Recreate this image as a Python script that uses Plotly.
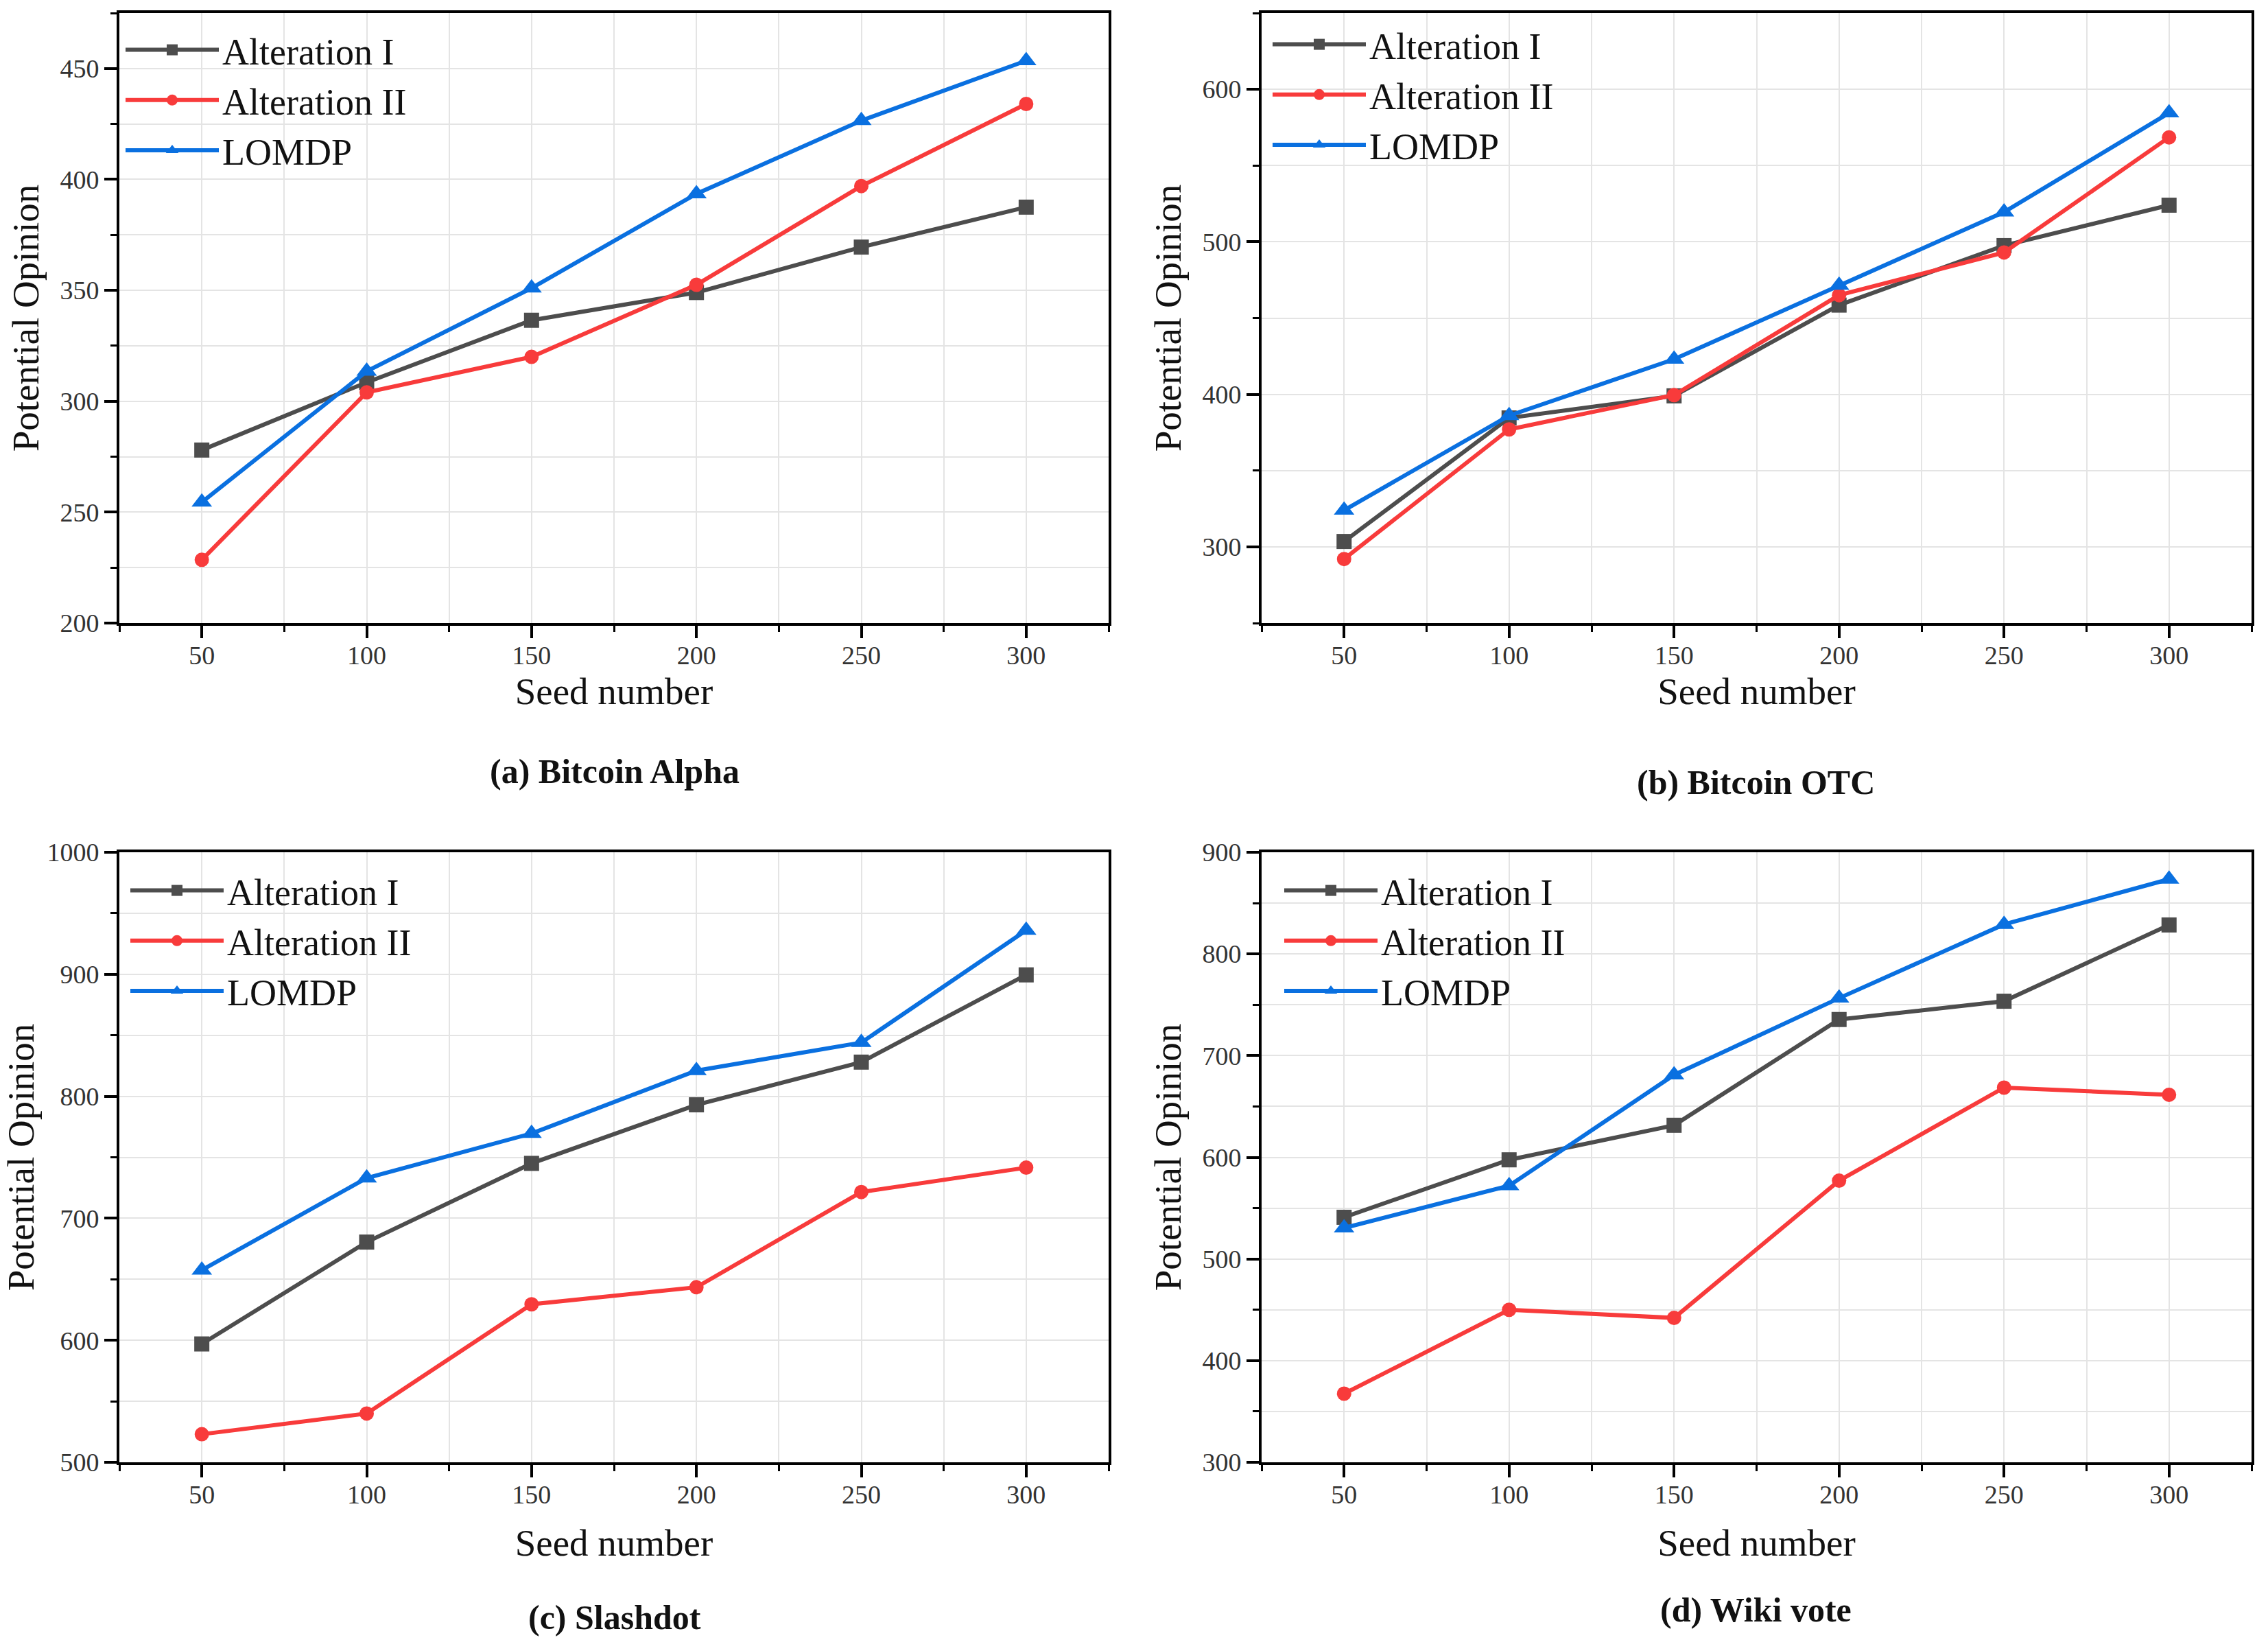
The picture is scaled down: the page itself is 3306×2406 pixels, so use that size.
import plotly.graph_objects as go
from plotly.subplots import make_subplots

# ---------------- data ----------------
seeds = [50, 100, 150, 200, 250, 300]
series_names = ["Alteration I", "Alteration II", "LOMDP"]
panel_titles = ["(a) Bitcoin Alpha", "(b) Bitcoin OTC", "(c) Slashdot", "(d) Wiki vote"]

alpha_alt1 = [278, 308.5, 336.5, 349, 369.5, 387.5]
alpha_alt2 = [228.5, 304, 320, 352.5, 397, 434]
alpha_lomdp = [254.5, 313.5, 351, 393.5, 426.5, 453.5]

otc_alt1 = [303.5, 384.5, 399, 458.5, 497.5, 524]
otc_alt2 = [292, 377, 399.5, 465, 493, 568.5]
otc_lomdp = [324, 386, 423, 471.5, 519.5, 584.5]

slash_alt1 = [597, 680.5, 745, 793, 828, 899.5]
slash_alt2 = [523, 540, 629.5, 643.5, 721.5, 741.5]
slash_lomdp = [657.5, 733, 769.5, 821, 844, 936]

wiki_alt1 = [541, 597.5, 631.5, 735.5, 753.5, 828.5]
wiki_alt2 = [367.5, 450, 442, 577, 668.5, 661.5]
wiki_lomdp = [530.5, 572, 681, 756.5, 829, 873.5]

x_range = [25, 325]
y_ranges = [[200, 475], [250, 650], [500, 1000], [300, 900]]
y_dticks = [50, 100, 100, 100]
y_minor = [25, 50, 50, 50]

# ---------------- style ----------------
W, H = 3306, 2406
FONT = "Liberation Serif"
colors = ["#4d4d4d", "#f83b3b", "#0a70e0"]
symbols = ["square", "circle", "triangle-up"]
msizes = [22, 21, 26]

panels = [
    [alpha_alt1, alpha_alt2, alpha_lomdp],
    [otc_alt1, otc_alt2, otc_lomdp],
    [slash_alt1, slash_alt2, slash_lomdp],
    [wiki_alt1, wiki_alt2, wiki_lomdp],
]

# pixel boxes (left, right, top, bottom)
boxes = [
    (174, 1616, 19, 908),
    (1839, 3282, 19, 908),
    (174, 1616, 1242, 2131),
    (1839, 3282, 1242, 2131),
]

fig = make_subplots(rows=2, cols=2)
legend_names = ["legend", "legend2", "legend3", "legend4"]
rc = [(1, 1), (1, 2), (2, 1), (2, 2)]

for p, series in enumerate(panels):
    r, c = rc[p]
    for s, vals in enumerate(series):
        fig.add_trace(
            go.Scatter(
                x=seeds, y=vals, name=series_names[s], mode="lines+markers",
                line=dict(color=colors[s], width=6),
                marker=dict(symbol=symbols[s], size=msizes[s], color=colors[s]),
                legend=legend_names[p], showlegend=True,
            ),
            row=r, col=c,
        )

layout = dict(
    width=W, height=H,
    margin=dict(l=0, r=0, t=0, b=0, autoexpand=False),
    paper_bgcolor="white", plot_bgcolor="white",
    font=dict(family=FONT, color="#222"),
)

legend_pos = [(178, 31), (1850, 23), (185, 1256), (1867, 1256)]

annotations = []
title_pos = [(896, 1124), (2559, 1140), (896, 2357), (2559, 2346)]
xt_standoff = [14, 14, 32, 32]
for p in range(4):
    L, R, T, B = boxes[p]
    sfx = "" if p == 0 else str(p + 1)
    common_grid = dict(showgrid=True, gridcolor="#e4e4e4", gridwidth=2)
    layout["xaxis" + sfx] = dict(
        domain=[L / W, R / W], range=x_range, dtick=50, tick0=0, automargin=False,
        showline=True, linecolor="black", linewidth=4, mirror=True,
        ticks="outside", ticklen=18, tickwidth=4, tickcolor="black",
        ticklabelstandoff=-8,
        tickfont=dict(family=FONT, size=38, color="#333"),
        zeroline=False, **common_grid,
        minor=dict(dtick=25, ticks="outside", ticklen=9, tickwidth=3, tickcolor="black",
                   showgrid=True, gridcolor="#e4e4e4", gridwidth=2),
        title=dict(text="Seed number", font=dict(family=FONT, size=55, color="#111"),
                   standoff=xt_standoff[p]),
    )
    layout["yaxis" + sfx] = dict(
        domain=[1 - B / H, 1 - T / H], range=y_ranges[p], dtick=y_dticks[p], tick0=0,
        automargin=False,
        showline=True, linecolor="black", linewidth=4, mirror=True,
        ticks="outside", ticklen=18, tickwidth=4, tickcolor="black",
        tickfont=dict(family=FONT, size=38, color="#333"),
        zeroline=False, **common_grid,
        minor=dict(dtick=y_minor[p], ticks="outside", ticklen=9, tickwidth=3, tickcolor="black",
                   showgrid=True, gridcolor="#e4e4e4", gridwidth=2),
        title=dict(text="Potential Opinion", font=dict(family=FONT, size=55, color="#111"),
                   standoff=14),
    )
    lx, ly = legend_pos[p]
    layout[legend_names[p]] = dict(
        x=lx / W, y=1 - ly / H, xanchor="left", yanchor="top",
        bgcolor="rgba(0,0,0,0)", borderwidth=0,
        font=dict(family=FONT, size=54, color="#111"),
        itemwidth=136, tracegroupgap=0,
    )
    tx, ty = title_pos[p]
    annotations.append(dict(
        text="<b>" + panel_titles[p] + "</b>", x=tx / W, y=1 - ty / H,
        xref="paper", yref="paper", xanchor="center", yanchor="middle",
        showarrow=False, font=dict(family=FONT, size=50, color="#111"),
    ))

layout["annotations"] = annotations
fig.update_layout(**layout)
fig.write_html("out.html", config={"displayModeBar": False},
               post_script="document.body.style.margin='0px';")
